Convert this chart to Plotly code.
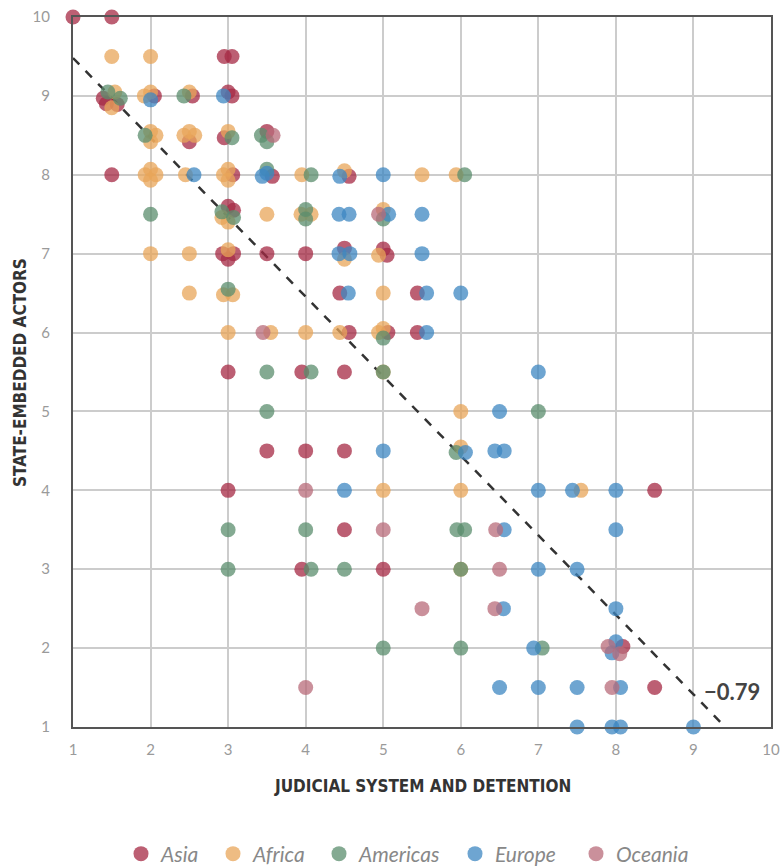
import plotly.graph_objects as go

# Scores per country, grouped by region (small offsets separate coincident scores)
asia_x = [1, 1.5, 2.95, 3.05, 1.39, 1.43, 1.57, 2.05, 2.54, 3, 3.05,
          2.5, 2.95, 3.5, 1.5, 3.06, 3.57, 4.56, 3, 3.07,
          2.93, 3.07, 3, 3.5, 4, 4.5, 5, 5.05, 4.44, 5.44,
          4.56, 5.06, 5.44, 3, 3.95, 4.5, 3.5, 4, 4.5, 3, 8.5,
          4.5, 3.95, 5, 8.09, 8.5]
asia_y = [10, 10, 9.5, 9.5, 8.97, 8.9, 8.89, 9.0, 9.0, 9.05, 9.0,
          8.42, 8.47, 8.55, 8, 8, 7.98, 7.98, 7.6, 7.55,
          7, 7, 6.93, 7, 7, 7.07, 7.06, 6.98, 6.5, 6.5,
          6, 6, 6, 5.5, 5.5, 5.5, 4.5, 4.5, 4.5, 4, 4,
          3.5, 3, 3, 2.02, 1.5]

africa_x = [1.5, 2, 1.54, 1.5, 1.92, 2, 2.5,
            2, 2.07, 2, 2.43, 2.5, 2.57, 3,
            1.93, 2, 2.07, 2, 2.45, 2.94, 3, 3, 3.95, 4.5, 5.5, 5.94,
            2.92, 3, 3.5, 3.94, 4.07, 5,
            2, 2.5, 3, 4.5, 4.94,
            2.5, 2.94, 3.06, 5,
            3, 3.55, 4, 4.44, 4.94, 5,
            5, 6, 6, 6, 5, 7.55, 6]
africa_y = [9.5, 9.5, 9.05, 8.85, 9.0, 9.05, 9.05,
            8.55, 8.5, 8.42, 8.5, 8.55, 8.5, 8.55,
            8, 8.07, 8, 7.93, 8, 8, 8.07, 7.93, 8, 8.05, 8, 8,
            7.46, 7.4, 7.5, 7.5, 7.5, 7.56,
            7, 7, 7.05, 6.93, 6.98,
            6.5, 6.48, 6.48, 6.5,
            6, 6, 6, 6, 6, 6.05,
            5.5, 5, 4.55, 4, 4, 4, 3]

americas_x = [1.45, 1.61, 2.43,
              1.93, 3.05, 3.43, 3.5,
              3.5, 4.07, 6.05,
              2, 2.92, 3.07, 4, 4, 5,
              3, 5, 3.5, 4.07, 5, 3.5, 7,
              5.94, 3, 4, 5.95, 6.05,
              3, 4.07, 4.5, 6,
              5, 6, 7.05]
americas_y = [9.05, 8.97, 9.0,
              8.5, 8.47, 8.5, 8.42,
              8.07, 8, 8,
              7.5, 7.53, 7.46, 7.56, 7.44, 7.44,
              6.55, 5.93, 5.5, 5.5, 5.5, 5, 5,
              4.48, 3.5, 3.5, 3.5, 3.5,
              3, 3, 3, 3,
              2, 2, 2]

europe_x = [2, 2.94,
            2.56, 3.44, 3.5, 4.44, 5,
            4.43, 4.56, 5.07, 5.5,
            4.43, 4.57, 5.5,
            4.55, 5.56, 6, 5.56,
            7, 6.5,
            5, 6.06, 6.44, 6.56,
            4.5, 7, 7.44, 8,
            6.56, 8, 7, 7.5,
            6.55, 8, 6.94, 8, 7.95,
            6.5, 7, 7.5, 8.06,
            7.5, 7.95, 8.06, 9]
europe_y = [8.95, 9.0,
            8, 7.98, 8.02, 7.98, 8,
            7.5, 7.5, 7.5, 7.5,
            7, 7, 7,
            6.5, 6.5, 6.5, 6,
            5.5, 5,
            4.5, 4.48, 4.5, 4.5,
            4, 4, 4, 4,
            3.5, 3.5, 3, 3,
            2.5, 2.5, 2, 2.08, 1.94,
            1.5, 1.5, 1.5, 1.5,
            1, 1, 1, 1]

oceania_x = [3.58, 4.94, 3.45, 4, 5, 6.45, 6.5, 5.5, 6.44, 7.9, 8.05, 4, 7.95]
oceania_y = [8.5, 7.5, 6, 4, 3.5, 3.5, 3, 2.5, 2.5, 2.02, 1.93, 1.5, 1.5]

# Fitted trend line end points and correlation coefficient
trend_x = [1, 9.41]
trend_y = [9.48, 1]
correlation = -0.79

series = [
    ("Asia", asia_x, asia_y, "#A52A44"),
    ("Africa", africa_x, africa_y, "#E8A65A"),
    ("Americas", americas_x, americas_y, "#5B8E6E"),
    ("Europe", europe_x, europe_y, "#3D87C1"),
    ("Oceania", oceania_x, oceania_y, "#B86B7A"),
]

W, H = 781, 867
# Left edge (px) of each legend entry along the bottom row
legend_left_px = [121, 213, 319, 455, 576]

fig = go.Figure()

fig.add_trace(go.Scatter(
    x=trend_x, y=trend_y, mode="lines",
    line=dict(color="#333333", width=2.5, dash="dash"),
    showlegend=False, hoverinfo="skip",
))

legend_font = dict(family="Lato, Open Sans, sans-serif", size=21, color="#888888", style="italic")
legend_layouts = {}
for i, (name, xs, ys, color) in enumerate(series):
    key = "legend" if i == 0 else f"legend{i + 1}"
    fig.add_trace(go.Scatter(
        x=xs, y=ys, mode="markers", name=name, legend=key,
        marker=dict(size=15, color=color, opacity=0.75, line=dict(width=0)),
        cliponaxis=False,
    ))
    legend_layouts[key] = dict(
        orientation="h", xref="container", yref="container",
        x=legend_left_px[i] / W, xanchor="left", y=0.015, yanchor="middle",
        font=legend_font, itemsizing="trace", itemwidth=30,
        bgcolor="rgba(0,0,0,0)",
    )

fig.add_annotation(
    x=9.5, y=1.45, xref="x", yref="y",
    text="\u2212" + f"{abs(correlation):.2f}",
    showarrow=False,
    font=dict(family="Lato, Open Sans, sans-serif", size=22, color="#444444", weight="bold"),
)

title_font = dict(family="Liberation Sans Narrow, DejaVu Sans Condensed, Roboto, sans-serif",
                  size=17, color="#333333", weight="bold")
tick_font = dict(family="Lato, Open Sans, sans-serif", size=15, color="#9a9a9a")

fig.add_annotation(
    x=0.5, y=-0.083, xref="paper", yref="paper",
    text="JUDICIAL SYSTEM AND DETENTION", showarrow=False,
    xanchor="center", yanchor="middle", font=title_font,
)
fig.add_annotation(
    x=-0.076, y=0.5, xref="paper", yref="paper",
    text="STATE-EMBEDDED ACTORS", showarrow=False, textangle=-90,
    xanchor="center", yanchor="middle", font=title_font,
)

axis_common = dict(
    range=[1, 10], dtick=1, tick0=1,
    showgrid=True, gridcolor="#cccccc", gridwidth=1.5,
    showline=True, linecolor="#555555", linewidth=2, mirror=True,
    zeroline=False, ticks="", tickfont=tick_font, automargin=False,
)

fig.update_xaxes(**axis_common, ticklabelstandoff=8)
fig.update_yaxes(**axis_common, ticklabelstandoff=18)

fig.update_layout(
    width=W, height=H,
    margin=dict(l=73, r=10, t=17, b=140),
    plot_bgcolor="white", paper_bgcolor="white",
    **legend_layouts,
)

fig.write_html("out.html")
